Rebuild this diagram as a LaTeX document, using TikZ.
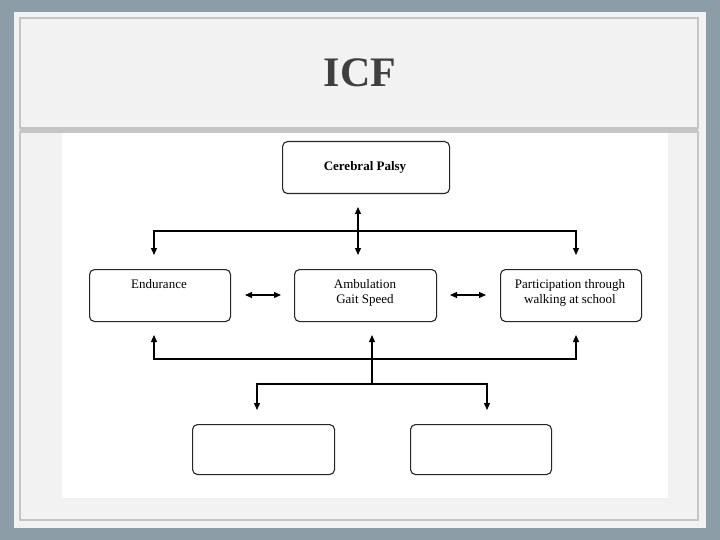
\documentclass[tikz,border=0pt]{standalone}
\usepackage{fontspec}
\setmainfont{Liberation Serif}
\usetikzlibrary{arrows.meta}
\definecolor{bgc}{HTML}{8C9DA8}
\definecolor{slide}{HTML}{F2F2F2}
\definecolor{brd}{HTML}{C4C6C4}
\begin{document}
\begin{tikzpicture}[x=1pt,y=-1pt,
 box/.style={draw=black!85,line width=1.1pt,rounded corners=5pt,anchor=north west,inner sep=0pt},
 lbl/.style={font=\fontsize{13}{15}\selectfont,align=center,anchor=north},
 ln/.style={line width=1.2pt},
 tip/.style={-{Triangle[length=7pt,width=6pt]}},
 dtip/.style={{Triangle[length=7pt,width=6pt]}-{Triangle[length=7pt,width=6pt]}}]
\useasboundingbox (0,0) rectangle (720,540);
\fill[bgc] (0,0) rectangle (720,540);
\fill[slide] (14,12) rectangle (706,528);
\draw[brd,line width=1.5pt] (20,18) rectangle (698,128);
\fill[brd] (20,127) rectangle (698,133);
\draw[brd,line width=1.5pt] (20,132) rectangle (698,520);
\fill[white] (62,133) rectangle (668,498);
\node[font=\bfseries\fontsize{42}{46}\selectfont,text=black!75] (title) at (360,73) {ICF};
% boxes
\node[box,minimum width=167pt,minimum height=52pt] (cp) at (282,141) {};
\node[font=\bfseries\fontsize{13}{15}\selectfont] (cpt) at (365,167) {Cerebral Palsy};
\node[box,minimum width=141pt,minimum height=52pt] (end) at (89,269) {};
\node[box,minimum width=142pt,minimum height=52pt] (amb) at (294,269) {};
\node[box,minimum width=141pt,minimum height=52pt] (par) at (500,269) {};
\node[lbl] (endt) at (159,276) {Endurance};
\node[lbl] (ambt) at (365,276) {Ambulation\\Gait Speed};
\node[lbl] (part) at (570,276) {Participation through\\walking at school};
\node[box,minimum width=142pt,minimum height=50pt] (b1) at (192,424) {};
\node[box,minimum width=141pt,minimum height=50pt] (b2) at (410,424) {};
% coordinates
\coordinate (t0) at (358,207); \coordinate (t1) at (358,255);
\coordinate (tl) at (154,231); \coordinate (tr) at (576,231);
\coordinate (tld) at (154,255); \coordinate (trd) at (576,255);
\coordinate (h1a) at (245,295); \coordinate (h1b) at (281,295);
\coordinate (h2a) at (450,295); \coordinate (h2b) at (486,295);
\coordinate (bl) at (154,359); \coordinate (br) at (576,359);
\coordinate (blu) at (154,335); \coordinate (bru) at (576,335);
\coordinate (bm) at (372,384); \coordinate (bmu) at (372,335);
\coordinate (cl) at (257,384); \coordinate (cr) at (487,384);
\coordinate (cld) at (257,410); \coordinate (crd) at (487,410);
\draw[ln,dtip] (t0) -- (t1);
\draw[ln,tip] (tr) -- (tl) -- (tld);
\draw[ln,tip] (tl) -- (tr) -- (trd);
\draw[ln,dtip] (h1a) -- (h1b);
\draw[ln,dtip] (h2a) -- (h2b);
\draw[ln,tip] (br) -- (bl) -- (blu);
\draw[ln,tip] (bl) -- (br) -- (bru);
\draw[ln,tip] (bm) -- (bmu);
\draw[ln,tip] (cr) -- (cl) -- (cld);
\draw[ln,tip] (cl) -- (cr) -- (crd);
\end{tikzpicture}
\end{document}
